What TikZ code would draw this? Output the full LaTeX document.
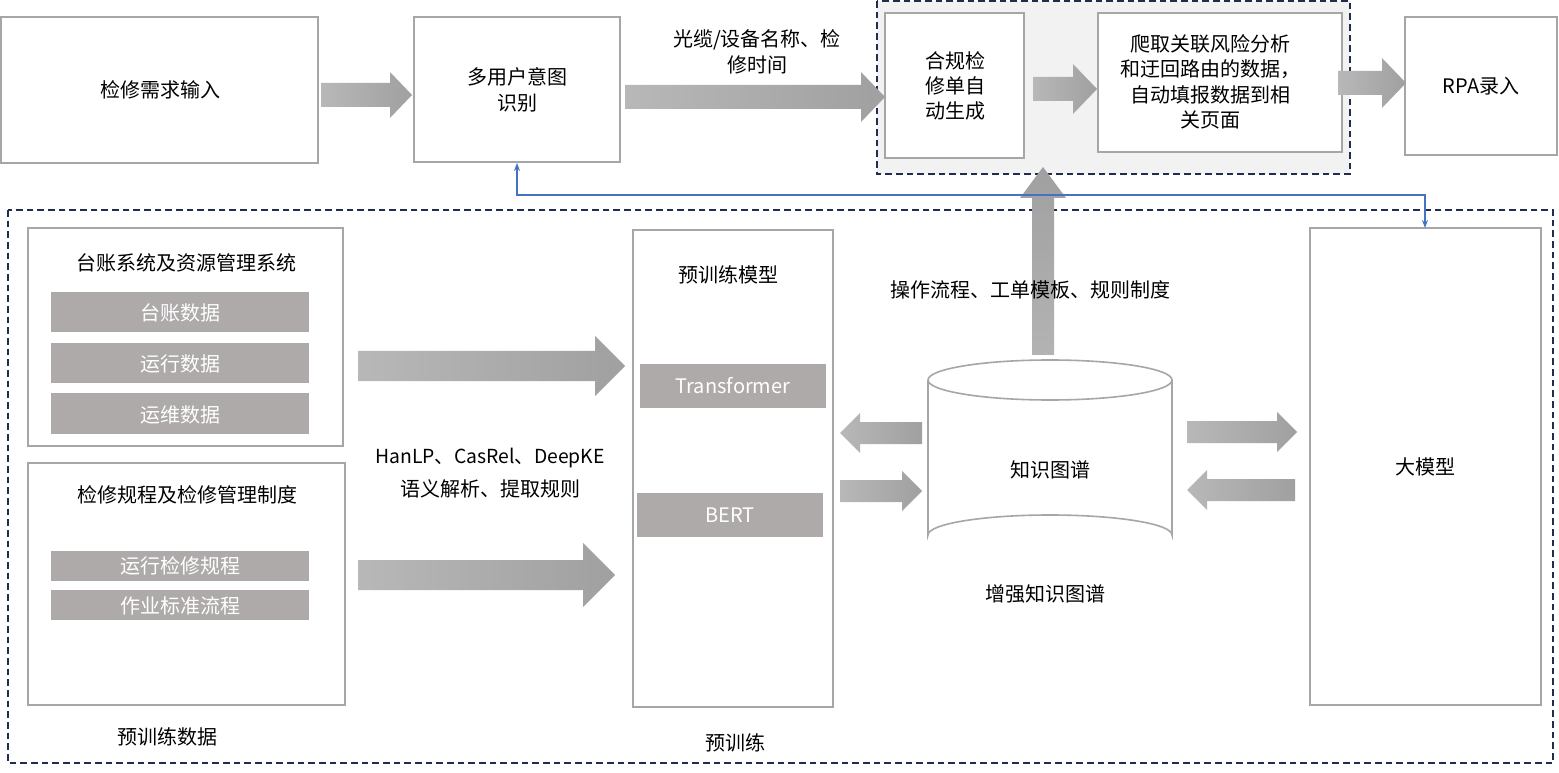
\documentclass[tikz,border=0pt]{standalone}
\usepackage{fontspec}
\setmainfont{Noto Sans CJK SC}
\usetikzlibrary{arrows.meta}
\definecolor{bx}{HTML}{A6A6A6}
\definecolor{bar}{HTML}{AEAAAA}
\definecolor{dsh}{HTML}{1F2D4F}
\definecolor{arr}{HTML}{A0A0A0}
\definecolor{blu}{HTML}{4472C4}
\tikzset{
 box/.style={draw=bx,line width=1.2pt,fill=white},
 bar/.style={fill=bar,draw=none},
 wt/.style={text=white,font=\fontsize{15}{18}\selectfont},
 tx/.style={font=\fontsize{15}{19}\selectfont,align=center},
 grp/.style={draw=dsh,line width=1pt,dash pattern=on 5pt off 3pt},
 fat/.style={left color=arr!75,right color=arr,draw=none}
}
% horizontal fat arrow: x1,x2,y,body half,head half,head length
\newcommand{\fatH}[6]{%
 \pgfmathsetmacro{\hx}{#2-#6*sign(#2-#1)}%
 \pgfmathsetmacro{\ya}{#3-#4}\pgfmathsetmacro{\yb}{#3+#4}%
 \pgfmathsetmacro{\yc}{#3-#5}\pgfmathsetmacro{\yd}{#3+#5}%
 \path[fat] (#1,\ya) -- (\hx,\ya) -- (\hx,\yc) -- (#2,#3) -- (\hx,\yd) -- (\hx,\yb) -- (#1,\yb) -- cycle;}
\begin{document}
\begin{tikzpicture}[x=0.75pt,y=-0.75pt]
\useasboundingbox (0,0) rectangle (1559,773);
\fill[white] (0,0) rectangle (1559,773);
% groups
\draw[grp,fill=black!5] (877,1) rectangle (1350,174);
\draw[grp] (8,210) rectangle (1553,763);
% top row
\draw[box] (1,17) rectangle (318,163); \node[tx] (req) at (160,90) {检修需求输入};
\draw[box] (414,17) rectangle (620,162); \node[tx] (intent) at (517,90) {多用户意图\\识别};
\coordinate (intentB) at (517,163);
\draw[box] (885,13) rectangle (1024,158); \node[tx] (gen) at (955,86) {合规检\\修单自\\动生成};
\draw[box] (1098,13) rectangle (1342,152); \node[tx] (crawl) at (1210,82) {爬取关联风险分析\\和迂回路由的数据，\\自动填报数据到相\\关页面};
\draw[box] (1405,17) rectangle (1557,155); \node[tx] (rpa) at (1481,86) {RPA录入};
\fatH{321}{412}{95}{12}{23}{22}
\fatH{625}{885}{97}{12}{25}{24}
\node[tx] (lbl1) at (757,52) {光缆/设备名称、检\\修时间};
\fatH{1033}{1097}{89}{12}{25}{24}
\fatH{1338}{1406}{83}{12}{25}{24}
% left boxes
\draw[box] (28,228) rectangle (343,446); \node[tx] (ledger) at (186,263) {台账系统及资源管理系统};
\fill[bar] (51,292) rectangle (309,332); \node[wt] (d1) at (180,313) {台账数据};
\fill[bar] (51,343) rectangle (309,383); \node[wt] (d2) at (180,364) {运行数据};
\fill[bar] (51,393) rectangle (309,434); \node[wt] (d3) at (180,415) {运维数据};
\draw[box] (28,463) rectangle (345,705); \node[tx] (rule) at (187,495) {检修规程及检修管理制度};
\fill[bar] (51,551) rectangle (309,581); \node[wt] (d4) at (180,566) {运行检修规程};
\fill[bar] (51,590) rectangle (309,620); \node[wt] (d5) at (180,606) {作业标准流程};
\node[tx] (pd) at (167,737) {预训练数据};
\fatH{358}{625}{366}{15}{30}{30}
\fatH{358}{615}{575}{15}{32}{32}
\node[font=\fontsize{14.5}{18}\selectfont] (han) at (490,458) {HanLP、CasRel、DeepKE};
\node[tx] (sem) at (490,489) {语义解析、提取规则};
% pretrain
\draw[box] (633,230) rectangle (833,707); \node[tx] (ptm) at (728,275) {预训练模型};
\fill[bar] (640,364) rectangle (826,408); \node[wt] (tf) at (733,386) {Transformer};
\fill[bar] (637,493) rectangle (823,537); \node[wt] (bert) at (730,515) {BERT};
\node[tx] (pt) at (735,743) {预训练};
% cylinder
\draw[box] (928,380) -- (928,535) arc[start angle=180,end angle=360,x radius=122,y radius=20] -- (1172,380);
\draw[box] (1050,380) ellipse[x radius=122,y radius=20];
\node[tx] (kg) at (1050,470) {知识图谱};
\node[tx] (ekg) at (1045,594) {增强知识图谱};
% up arrow
\path[fat,top color=arr,bottom color=arr!80] (1032,355) -- (1032,198) -- (1020,198) -- (1043,167) -- (1066,198) -- (1054,198) -- (1054,355) -- cycle;
\node[tx] (ops) at (1030,290) {操作流程、工单模板、规则制度};
\fatH{922}{840}{433}{11}{20}{20}
\fatH{840}{922}{491}{11}{20}{20}
\fatH{1187}{1297}{432}{11}{20}{20}
\fatH{1295}{1187}{490}{11}{20}{20}
% big model
\draw[box] (1310,228) rectangle (1541,705); \node[tx] (llm) at (1425,467) {大模型};
\coordinate (llmT) at (1425,228);
% blue connector
\draw[blu,line width=0.9pt,{Stealth[length=6pt]}-{Stealth[length=6pt]}] (intentB) |- (1425,195) -- (llmT);
\end{tikzpicture}
\end{document}
